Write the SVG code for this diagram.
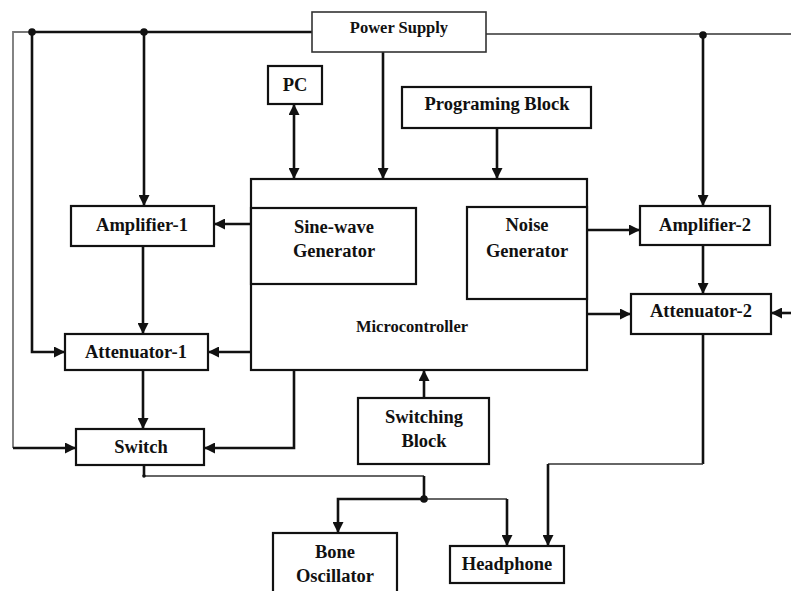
<svg xmlns="http://www.w3.org/2000/svg" width="791" height="591" viewBox="0 0 791 591">
<defs>
<style>
.box{fill:#fff;stroke:#111;stroke-width:2.2}
.thinbox{fill:#fff;stroke:#333;stroke-width:1.6}
.lbl{font-family:"Liberation Serif","Times New Roman",serif;font-weight:bold;font-size:18.5px;fill:#111;text-anchor:middle}
.small{font-size:16.5px}
.w{fill:none;stroke:#111;stroke-width:2.6}
.t{fill:none;stroke:#333;stroke-width:1.6}
.g{fill:none;stroke:#777;stroke-width:1.8}
.a{marker-end:url(#ah)}
.dot{fill:#111}
</style>
<marker id="ah" viewBox="0 0 10 10" refX="10" refY="5" markerWidth="11" markerHeight="11" markerUnits="userSpaceOnUse" orient="auto-start-reverse">
<path d="M0,0 L10,5 L0,10 z" fill="#111"/>
</marker>
</defs>

<g id="connectors">
<path class="w" d="M312,32 H32"/>
<path class="g" d="M32,32 H13 V448"/>
<path class="w a" d="M13,448 H76"/>
<path class="w a" d="M32,32 V352 H65"/>
<path class="w a" d="M144,32 V206"/>
<path class="w a" d="M383,52 V179"/>
<path class="w a" d="M294,104 V179" marker-start="url(#ah)"/>
<path class="w a" d="M497,128 V179"/>
<path class="t" d="M486,34 H791"/>
<path class="w a" d="M703,34 V206"/>
<path class="w a" d="M251,224 H214"/>
<path class="w a" d="M143,246 V334"/>
<path class="w a" d="M251,352 H208"/>
<path class="w a" d="M143,370 V429"/>
<path class="w a" d="M294,370 V448 H204"/>
<path class="w a" d="M587,230 H640"/>
<path class="w a" d="M703,245 V294"/>
<path class="w a" d="M587,314 H631"/>
<path class="w a" d="M791,313 H771"/>
<path class="w a" d="M424,398 V370"/>
<path class="w" d="M144,465 V476"/>
<path class="t" d="M144,476 H424"/>
<path class="w" d="M424,476 V499"/>
<path class="w a" d="M424,499 H338 V533"/>
<path class="t" d="M424,499 H507"/>
<path class="w a" d="M507,499 V546"/>
<path class="w" d="M703,334 V464"/>
<path class="t" d="M703,464 H548"/>
<path class="w a" d="M548,464 V546"/>
<circle class="dot" cx="32" cy="32" r="3.8"/>
<circle class="dot" cx="144" cy="32" r="3.8"/>
<circle class="dot" cx="703" cy="35" r="3.8"/>
<circle class="dot" cx="144" cy="476" r="1.8"/>
<circle class="dot" cx="424" cy="499" r="3.8"/>
</g>

<g id="power-supply">
<rect class="thinbox" x="312" y="12" width="174" height="40"/>
<text class="lbl small" x="399" y="33">Power Supply</text>
</g>
<g id="pc">
<rect class="box" x="268" y="66" width="54" height="38"/>
<text class="lbl" x="295" y="91">PC</text>
</g>
<g id="programing-block">
<rect class="box" x="402" y="87" width="189" height="41"/>
<text class="lbl" x="497" y="110">Programing Block</text>
</g>
<g id="microcontroller">
<rect class="box" x="251" y="179" width="336" height="191"/>
<text class="lbl small" x="412" y="332">Microcontroller</text>
</g>
<g id="sine-wave-generator">
<rect class="box" x="251" y="208" width="165" height="76"/>
<text class="lbl" x="334" y="233">Sine-wave</text>
<text class="lbl" x="334" y="257">Generator</text>
</g>
<g id="noise-generator">
<rect class="box" x="467" y="207" width="120" height="92"/>
<text class="lbl" x="527" y="231">Noise</text>
<text class="lbl" x="527" y="257">Generator</text>
</g>
<g id="amplifier-1">
<rect class="box" x="71" y="206" width="143" height="40"/>
<text class="lbl" x="142" y="231">Amplifier-1</text>
</g>
<g id="attenuator-1">
<rect class="box" x="65" y="334" width="143" height="36"/>
<text class="lbl" x="136" y="358">Attenuator-1</text>
</g>
<g id="switch">
<rect class="box" x="76" y="429" width="128" height="36"/>
<text class="lbl" x="141" y="453">Switch</text>
</g>
<g id="amplifier-2">
<rect class="box" x="640" y="206" width="130" height="39"/>
<text class="lbl" x="705" y="231">Amplifier-2</text>
</g>
<g id="attenuator-2">
<rect class="box" x="631" y="294" width="140" height="40"/>
<text class="lbl" x="701" y="317">Attenuator-2</text>
</g>
<g id="switching-block">
<rect class="box" x="358" y="398" width="131" height="66"/>
<text class="lbl" x="424" y="423">Switching</text>
<text class="lbl" x="424" y="447">Block</text>
</g>
<g id="bone-oscillator">
<rect class="box" x="273" y="533" width="124" height="70"/>
<text class="lbl" x="335" y="558">Bone</text>
<text class="lbl" x="335" y="582">Oscillator</text>
</g>
<g id="headphone">
<rect class="box" x="450" y="546" width="114" height="37"/>
<text class="lbl" x="507" y="570">Headphone</text>
</g>
</svg>
